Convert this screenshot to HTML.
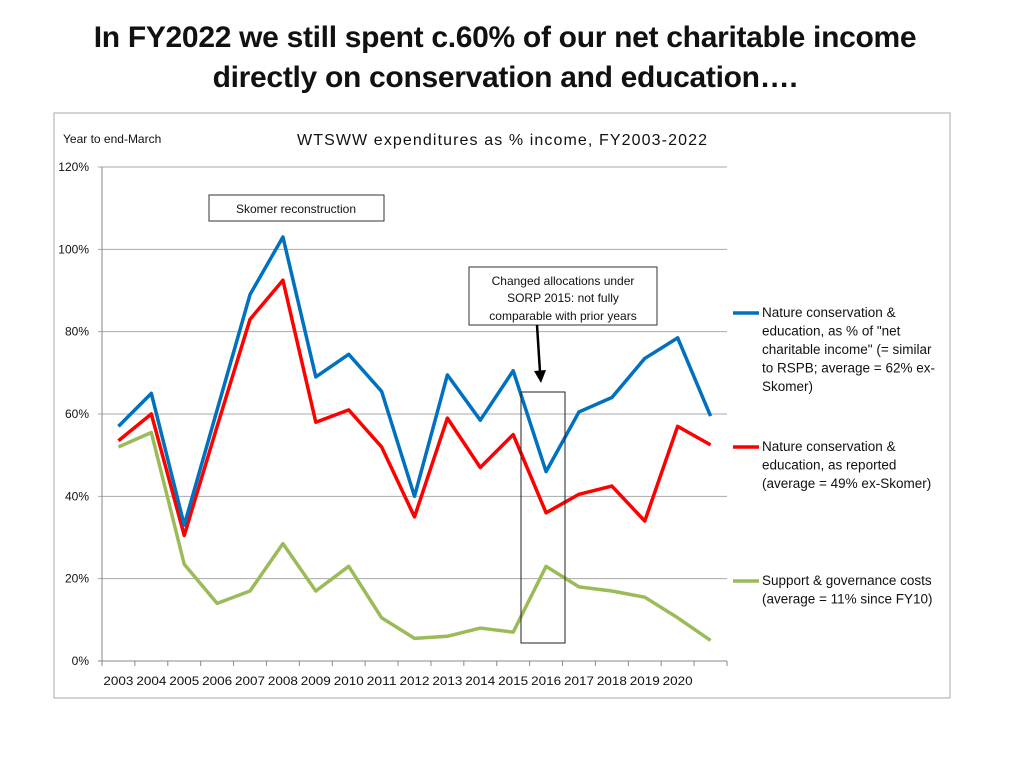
<!DOCTYPE html>
<html><head><meta charset="utf-8"><style>
body{margin:0;width:1024px;height:768px;background:#fff;font-family:"Liberation Sans",sans-serif;overflow:hidden}
#title{position:absolute;left:0;width:1010px;top:18px;text-align:center;font-weight:bold;font-size:30px;line-height:40px;color:#111;letter-spacing:-0.3px}
</style></head><body>
<div id="title">In FY2022 we still spent c.60% of our net charitable income<br>directly on conservation and education….</div>
<svg id="chart" width="1024" height="768" style="position:absolute;left:0;top:0"></svg>
<script>
const categories=["2003","2004","2005","2006","2007","2008","2009","2010","2011","2012","2013","2014","2015","2016","2017","2018","2019","2020",""];
const blueValues=[57,65,33,61,89,103,69,74.5,65.5,40,69.5,58.5,70.5,46,60.5,64,73.5,78.5,59.5];
const redValues=[53.5,60,30.5,57,83,92.5,58,61,52,35,59,47,55,36,40.5,42.5,34,57,52.5];
const greenValues=[52,55.5,23.5,14,17,28.5,17,23,10.5,5.5,6,8,7,23,18,17,15.5,10.5,5];
const yTicks=[0,20,40,60,80,100,120];
const NS="http://www.w3.org/2000/svg";
const svg=document.getElementById('chart');
const X0=102,X1=727,Y0=661,Y1=167;
const step=(X1-X0)/categories.length;
function xs(i){return X0+step*(i+0.5);}
function ys(v){return Y0-(v/120)*(Y0-Y1);}
function mk(t,a){const e=document.createElementNS(NS,t);for(const k in a)e.setAttribute(k,a[k]);svg.appendChild(e);return e;}
let e=mk('rect',{x:54,y:113,width:896,height:585,fill:'none',stroke:'#aaa','stroke-width':1});


yTicks.forEach(v=>{
 const g=mk('line',{x1:X0-4,x2:X1,y1:ys(v),y2:ys(v),stroke:v===0?'#888':'#aaa','stroke-width':1});
 
 
 const t=mk('text',{x:89,y:ys(v)+4,'text-anchor':'end','font-size':12,fill:'#111'});
 t.textContent=v+'%';
 
 
});
e=mk('line',{x1:X0,x2:X0,y1:Y1,y2:Y0,stroke:'#888'});


for(let i=0;i<=categories.length;i++){
 const tk=mk('line',{x1:X0+step*i,x2:X0+step*i,y1:Y0,y2:Y0+5,stroke:'#888'});
 
 
}
categories.forEach((c,i)=>{
 const t=mk('text',{x:xs(i),y:685,'text-anchor':'middle','font-size':12,fill:'#111'});
 if(c){t.setAttribute('textLength',30);t.setAttribute('lengthAdjust','spacingAndGlyphs');}
 t.textContent=c;
 
 
});
function series(vals,color,name){
 const p=mk('polyline',{points:vals.map((v,i)=>xs(i)+','+ys(v)).join(' '),fill:'none',stroke:color,'stroke-width':3.5,'stroke-linejoin':'round'});
 
 
}
series(greenValues,'#9bbb59','support-governance-line');
series(redValues,'#ff0000','conservation-reported-line');
series(blueValues,'#0070c0','conservation-net-income-line');
function txt(x,y,s,size,name,anchor){const t=mk('text',{x:x,y:y,'font-size':size,fill:'#111','text-anchor':anchor||'start'});t.textContent=s;return t;}
txt(63,143,'Year to end-March',12,'axis-note');
const ct=txt(502,145,'WTSWW expenditures as % income, FY2003-2022',16,'chart-title','middle');
ct.setAttribute('textLength',410);
e=mk('rect',{x:209,y:195,width:175,height:26,fill:'#fff',stroke:'#333'});


txt(296,213,'Skomer reconstruction',12,'skomer-annotation','middle');
e=mk('rect',{x:469,y:267,width:188,height:58,fill:'#fff',stroke:'#333'});


txt(563,285,'Changed allocations under',12,'sorp-annotation','middle');
txt(563,302,'SORP 2015: not fully',12,'sorp-annotation','middle');
txt(563,320,'comparable with prior years',12,'sorp-annotation','middle');
e=mk('line',{x1:537,y1:325,x2:540,y2:372,stroke:'#000','stroke-width':2.5});


e=mk('polygon',{points:'534,371 546,370 541,383',fill:'#000'});


e=mk('rect',{x:521,y:392,width:44,height:251,fill:'none',stroke:'#222'});


function leg(y,color,lines,name){
 const l=mk('line',{x1:733,x2:759,y1:y-4,y2:y-4,stroke:color,'stroke-width':3.5});
 
 
 lines.forEach((s,i)=>txt(762,y+i*18.5,s,13.5,name));
}
leg(317,'#0070c0',['Nature conservation &','education, as % of "net','charitable income" (= similar','to RSPB; average = 62% ex-','Skomer)'],'legend-entry-net-income');
leg(451,'#ff0000',['Nature conservation &','education, as reported','(average = 49% ex-Skomer)'],'legend-entry-reported');
leg(585,'#9bbb59',['Support & governance costs','(average = 11% since FY10)'],'legend-entry-support');
</script>
</body></html>
